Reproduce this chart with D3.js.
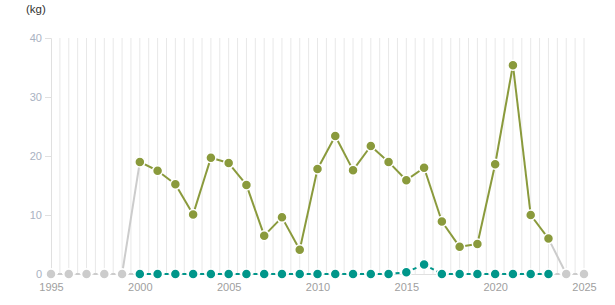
<!DOCTYPE html>
<html>
<head>
<meta charset="utf-8">
<script src="https://cdn.jsdelivr.net/npm/d3@7"></script>
<style>
  body { margin: 0; background: #fff; }
  svg { font-family: "Liberation Sans", Arial, sans-serif; }
</style>
</head>
<body>
<div id="chart"></div>
<script>
// data
var years = d3.range(1995, 2026);
var oliveValues = [null, null, null, null, null,
  19.0, 17.5, 15.2, 10.1, 19.7, 18.8, 15.1, 6.5, 9.6, 4.1,
  17.8, 23.4, 17.6, 21.7, 19.0, 15.9, 18.0, 8.9, 4.6, 5.1,
  18.6, 35.4, 10.0, 6.0, null, null];
var tealValues = [null, null, null, null, null,
  0, 0, 0, 0, 0, 0, 0, 0, 0, 0,
  0, 0, 0, 0, 0, 0.3, 1.6, 0, 0, 0,
  0, 0, 0, 0, null, null];
var yTicks = [0, 10, 20, 30, 40];
var xTicks = [1995, 2000, 2005, 2010, 2015, 2020, 2025];
var unitLabel = "(kg)";

var width = 615, height = 305;
var margin = {top: 38, right: 31, bottom: 31, left: 51};

var svg = d3.select("#chart")
  .append("svg")
    .attr("width", width)
    .attr("height", height);

var x = d3.scaleLinear()
  .domain([1995, 2025])
  .range([margin.left, width - margin.right]);
var y = d3.scaleLinear()
  .domain([0, 40])
  .range([height - margin.bottom, margin.top]);

// vertical grid, every half year
svg.append("g")
  .selectAll("line")
  .data(d3.range(1995.5, 2025.01, 0.5))
  .enter().append("line")
    .attr("x1", function(d) { return x(d); })
    .attr("x2", function(d) { return x(d); })
    .attr("y1", y(40))
    .attr("y2", y(0))
    .attr("stroke", "#e8e8e8")
    .attr("stroke-width", 1);

// y axis
var yAxis = svg.append("g")
  .attr("transform", "translate(" + margin.left + ",0)")
  .call(d3.axisLeft(y).tickValues(yTicks).tickSize(6).tickPadding(3));
yAxis.select(".domain").attr("stroke", "#e0e0e0");
yAxis.selectAll(".tick line").attr("stroke", "#e0e0e0");
yAxis.selectAll("text")
  .attr("fill", "#a9b2c2")
  .style("font-size", "11px");

// x axis
var xAxis = svg.append("g")
  .attr("transform", "translate(0," + y(0) + ")")
  .call(d3.axisBottom(x).tickValues(xTicks).tickFormat(d3.format("d")).tickSize(0).tickPadding(9));
xAxis.select(".domain").attr("stroke", "#e0e0e0");
xAxis.selectAll("text")
  .attr("fill", "#a0a0a0")
  .style("font-size", "11px");

svg.append("text")
  .attr("x", 26)
  .attr("y", 13)
  .attr("fill", "#333")
  .style("font-size", "11.5px")
  .text(unitLabel);

function build(values) {
  return years.map(function(yr, i) {
    return {year: yr, value: values[i] == null ? 0 : values[i], missing: values[i] == null};
  });
}

function drawSeries(values, color, dash, skipEmpty) {
  var pts = build(values);
  var g = svg.append("g");
  var segs = d3.pairs(pts).filter(function(p) {
    return !(skipEmpty && p[0].missing && p[1].missing);
  });
  g.selectAll("line")
    .data(segs)
    .enter().append("line")
      .attr("x1", function(d) { return x(d[0].year); })
      .attr("y1", function(d) { return y(d[0].value); })
      .attr("x2", function(d) { return x(d[1].year); })
      .attr("y2", function(d) { return y(d[1].value); })
      .attr("stroke", function(d) { return (d[0].missing || d[1].missing) ? "#cccccc" : color; })
      .attr("stroke-width", 2)
      .attr("stroke-dasharray", dash);
  g.selectAll("circle")
    .data(pts)
    .enter().append("circle")
      .attr("cx", function(d) { return x(d.year); })
      .attr("cy", function(d) { return y(d.value); })
      .attr("r", 5)
      .attr("fill", function(d) { return d.missing ? "#cccccc" : color; })
      .attr("stroke", "#fff")
      .attr("stroke-width", 1.5);
}

drawSeries(oliveValues, "#8a9a3c", null, true);
drawSeries(tealValues, "#00968a", "4,3", false);
</script>
</body>
</html>
